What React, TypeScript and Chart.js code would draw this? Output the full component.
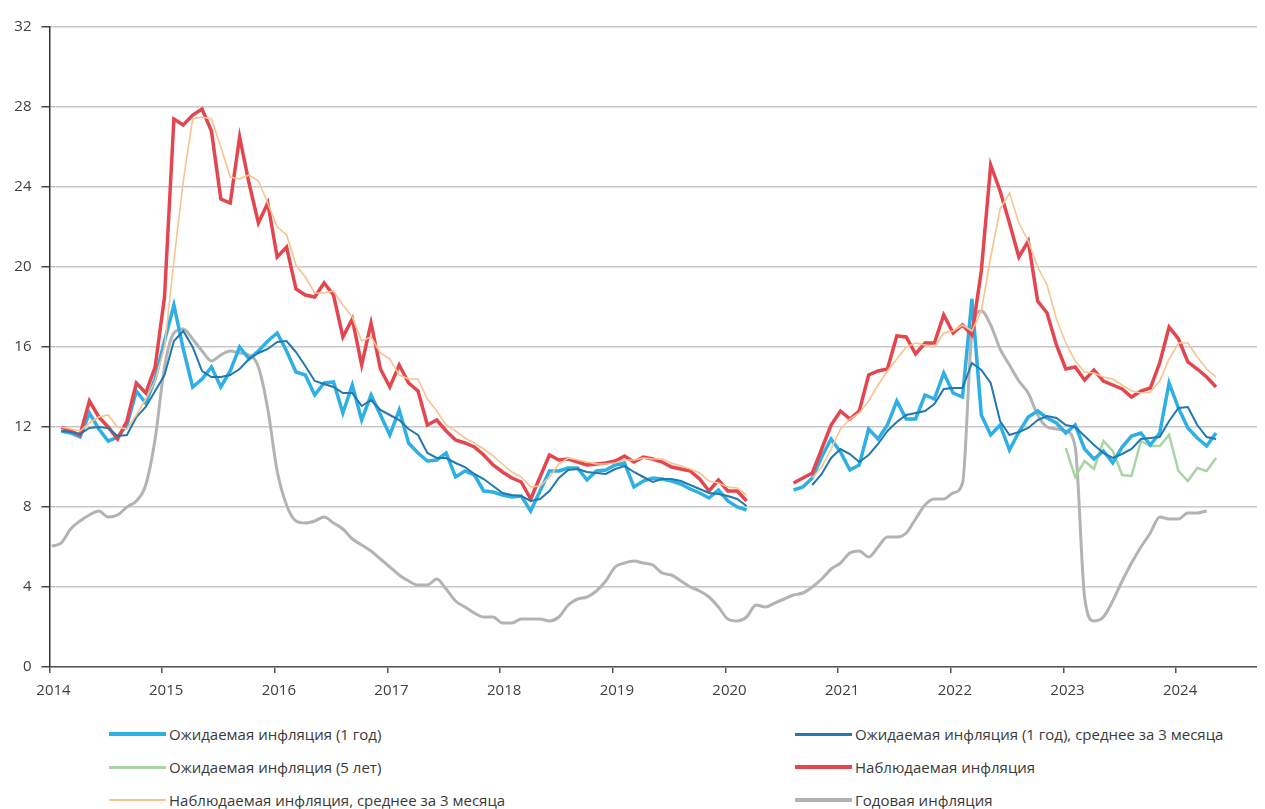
import React, { useEffect, useRef } from "react";
import { Chart, registerables } from "chart.js";

Chart.register(...registerables);

// Monthly data, index 0 = January 2014, last = May 2024
const START_YEAR = 2014;
const MONTH_OFFSET = 0.25;

const YEAR_TICKS = [2014, 2015, 2016, 2017, 2018, 2019, 2020, 2021, 2022, 2023, 2024];
const VALUE_TICKS = [0, 4, 8, 12, 16, 20, 24, 28, 32];

// Ожидаемая инфляция (1 год)
const expected1y = [
  null, 11.8, 11.7, 11.5, 12.7, 11.9, 11.3, 11.5, 12.1, 13.8, 13.2, 14.4,
  16.3, 18.1, 15.9, 14.0, 14.4, 15.0, 14.0, 14.8, 16.0, 15.4, 15.8, 16.3,
  16.7, 15.8, 14.75, 14.6, 13.6, 14.2, 14.25, 12.7, 14.1, 12.35, 13.6, 12.6,
  11.6, 12.85, 11.2, 10.7, 10.3, 10.35, 10.7, 9.5, 9.8, 9.6, 8.8, 8.75,
  8.6, 8.5, 8.55, 7.8, 8.8, 9.8, 9.8, 9.95, 9.95, 9.35, 9.8, 9.85,
  10.1, 10.2, 9.0, 9.3, 9.45, 9.4, 9.3, 9.15, 8.9, 8.7, 8.45, 8.85,
  8.3, 8.0, 7.85, null, null, null, null, 8.85, 9.0, 9.45, 10.5, 11.4,
  10.75, 9.85, 10.1, 11.9, 11.4, 12.1, 13.3, 12.4, 12.4, 13.6, 13.4, 14.7,
  13.7, 13.5, 18.4, 12.6, 11.6, 12.1, 10.85, 11.75, 12.5, 12.8, 12.45, 12.2,
  11.7, 12.1, 10.9, 10.4, 10.8, 10.2, 11.0, 11.55, 11.7, 11.1, 11.7, 14.2,
  12.95, 11.95, 11.45, 11.05, 11.7,
];

// Ожидаемая инфляция (1 год), среднее за 3 месяца
const expected1y3m = [
  null, 11.8, 11.75, 11.65, 11.95, 12.0, 11.95, 11.55, 11.6, 12.5, 13.0, 13.8,
  14.6, 16.3, 16.8, 16.0, 14.8, 14.5, 14.5, 14.6, 14.9, 15.4, 15.7, 15.9,
  16.25, 16.3, 15.75, 15.05, 14.3, 14.15, 14.0, 13.7, 13.7, 13.05, 13.35, 12.85,
  12.6, 12.35, 11.9, 11.6, 10.7, 10.45, 10.45, 10.2, 10.0, 9.65, 9.4, 9.05,
  8.7, 8.6, 8.55, 8.3, 8.4, 8.8, 9.45, 9.85, 9.9, 9.75, 9.7, 9.65,
  9.9, 10.05, 9.75, 9.5, 9.25, 9.4, 9.4, 9.3, 9.1, 8.9, 8.7, 8.65,
  8.55, 8.4, 8.05, null, null, null, null, null, null, 9.1, 9.65, 10.45,
  10.9, 10.65, 10.25, 10.6, 11.15, 11.8, 12.25, 12.6, 12.7, 12.8, 13.15, 13.9,
  13.95, 13.95, 15.2, 14.85, 14.2, 12.3, 11.6, 11.75, 11.95, 12.35, 12.55, 12.45,
  12.1, 12.0, 11.55, 11.1, 10.7, 10.45, 10.65, 10.9, 11.4, 11.45, 11.5, 12.3,
  12.95, 13.0, 12.1, 11.5, 11.4,
];

// Ожидаемая инфляция (5 лет)
const expected5y = [
  null, null, null, null, null, null, null, null, null, null, null, null,
  null, null, null, null, null, null, null, null, null, null, null, null,
  null, null, null, null, null, null, null, null, null, null, null, null,
  null, null, null, null, null, null, null, null, null, null, null, null,
  null, null, null, null, null, null, null, null, null, null, null, null,
  null, null, null, null, null, null, null, null, null, null, null, null,
  null, null, null, null, null, null, null, null, null, null, null, null,
  null, null, null, null, null, null, null, null, null, null, null, null,
  null, null, null, null, null, null, null, null, null, null, null, null,
  10.95, 9.5, 10.3, 9.9, 11.3, 10.8, 9.6, 9.55, 11.3, 11.05, 11.05, 11.6,
  9.8, 9.3, 9.95, 9.8, 10.45,
];

// Наблюдаемая инфляция
const observed = [
  null, 12.0, 11.8, 11.6, 13.3, 12.5, 12.0, 11.4, 12.3, 14.2, 13.7, 15.0,
  18.5, 27.4, 27.1, 27.6, 27.9, 26.8, 23.4, 23.2, 26.5, 24.2, 22.2, 23.2,
  20.5, 21.0, 18.9, 18.6, 18.5, 19.2, 18.6, 16.5, 17.4, 15.1, 17.2, 14.9,
  14.0, 15.1, 14.2, 13.8, 12.1, 12.35, 11.8, 11.35, 11.2, 11.0, 10.6, 10.1,
  9.75, 9.45, 9.25, 8.4, 9.5, 10.6, 10.35, 10.4, 10.25, 10.1, 10.15, 10.2,
  10.3, 10.55, 10.25, 10.5, 10.4, 10.25, 10.0, 9.9, 9.8, 9.4, 8.8, 9.35,
  8.8, 8.8, 8.3, null, null, null, null, 9.2, 9.45, 9.7, 10.9, 12.1,
  12.8, 12.4, 12.8, 14.6, 14.8, 14.9, 16.55, 16.5, 15.65, 16.2, 16.2, 17.6,
  16.7, 17.1, 16.6, 19.8, 25.1, 23.8, 22.2, 20.5, 21.3, 18.3, 17.7, 16.1,
  14.9, 15.0, 14.35, 14.85, 14.3, 14.1, 13.9, 13.5, 13.8, 13.95, 15.2, 17.0,
  16.4, 15.25, 14.9, 14.5, 14.0,
];

// Наблюдаемая инфляция, среднее за 3 месяца
const observed3m = [
  null, 12.0, 11.9, 11.8, 12.2, 12.5, 12.6, 12.0, 11.9, 12.6, 13.4, 14.3,
  16.0, 20.3, 24.3, 27.4, 27.5, 27.4, 26.0, 24.5, 24.4, 24.6, 24.3, 23.2,
  22.0, 21.6, 20.1, 19.5, 18.7, 18.7, 18.8, 18.1, 17.5, 16.3, 16.5, 15.7,
  15.4, 14.6, 14.4, 14.4, 13.4, 12.8, 12.1, 11.8, 11.45, 11.2, 10.9, 10.55,
  10.15, 9.75, 9.5, 9.0, 9.05, 9.5, 10.15, 10.45, 10.35, 10.25, 10.15, 10.15,
  10.2, 10.35, 10.35, 10.45, 10.4, 10.4, 10.2, 10.05, 9.9, 9.7, 9.3, 9.2,
  9.0, 8.95, 8.6, null, null, null, null, null, null, 9.45, 10.0, 10.9,
  11.9, 12.4, 12.7, 13.3, 14.1, 14.8, 15.4, 16.0, 16.2, 16.1, 16.0, 16.7,
  16.8, 17.1, 16.8, 17.8, 20.5, 22.9, 23.7, 22.2, 21.3, 20.0, 19.1, 17.4,
  16.2, 15.3, 14.75, 14.7, 14.5, 14.4, 14.1, 13.8, 13.7, 13.75, 14.3, 15.4,
  16.2, 16.2, 15.5, 14.9, 14.5,
];

// Годовая инфляция
const annualCpi = [
  6.05, 6.2, 6.9, 7.3, 7.6, 7.8, 7.5, 7.6, 8.0, 8.3, 9.1, 11.4,
  15.0, 16.7, 16.9, 16.4, 15.8, 15.3, 15.6, 15.8, 15.7, 15.6, 15.0, 12.9,
  9.8, 8.1, 7.3, 7.2, 7.3, 7.5, 7.2, 6.9, 6.4, 6.1, 5.8, 5.4,
  5.0, 4.6, 4.3, 4.1, 4.1, 4.4, 3.9, 3.3, 3.0, 2.7, 2.5, 2.5,
  2.2, 2.2, 2.4, 2.4, 2.4, 2.3, 2.5, 3.1, 3.4, 3.5, 3.8, 4.3,
  5.0, 5.2, 5.3, 5.2, 5.1, 4.7, 4.6, 4.3, 4.0, 3.8, 3.5, 3.0,
  2.4, 2.3, 2.5, 3.1, 3.0, 3.2, 3.4, 3.6, 3.7, 4.0, 4.4, 4.9,
  5.2, 5.7, 5.8, 5.5, 6.0, 6.5, 6.5, 6.7, 7.4, 8.1, 8.4, 8.4,
  8.7, 9.2, 16.7, 17.8, 17.1, 15.9, 15.1, 14.3, 13.7, 12.6, 12.0, 11.9,
  11.8, 11.0, 3.5, 2.3, 2.5, 3.3, 4.3, 5.2, 6.0, 6.7, 7.5, 7.4,
  7.4, 7.7, 7.7, 7.8, null,
];

const SERIES_NAMES = [
  "Ожидаемая инфляция (1 год)",
  "Ожидаемая инфляция (1 год), среднее за 3 месяца",
  "Ожидаемая инфляция (5 лет)",
  "Наблюдаемая инфляция",
  "Наблюдаемая инфляция, среднее за 3 месяца",
  "Годовая инфляция",
];
const SERIES_VALUES = [expected1y, expected1y3m, expected5y, observed, observed3m, annualCpi];
const SERIES_COLORS = ["#2eb0e4", "#2378b0", "#a9d4a3", "#e4464f", "#f8c38e", "#b3b3b3"];
const SERIES_WIDTHS = [3.5, 2, 2.5, 3.5, 1.6, 3];
const SERIES_ORDER = [3, 1, 4, 2, 0, 5];
const LEGEND_WIDTHS = [4, 3, 3, 4, 2, 4];

const FONT = "'Open Sans', 'Noto Sans', sans-serif";

function toPoints(values: (number | null)[]) {
  return values.map((v, i) => ({ x: START_YEAR + (i + MONTH_OFFSET) / 12, y: v }));
}

export default function App() {
  const canvasRef = useRef<HTMLCanvasElement | null>(null);

  useEffect(() => {
    if (!canvasRef.current) return;
    const chart = new Chart(canvasRef.current, {
      type: "line",
      data: {
        datasets: SERIES_NAMES.map((name, i) => ({
          label: name,
          data: toPoints(SERIES_VALUES[i]) as any,
          borderColor: SERIES_COLORS[i],
          backgroundColor: SERIES_COLORS[i],
          borderWidth: SERIES_WIDTHS[i],
          pointRadius: 0,
          pointHoverRadius: 0,
          fill: false,
          spanGaps: false,
          order: SERIES_ORDER[i],
          cubicInterpolationMode: i === 5 ? "monotone" : "default",
          tension: 0,
        })),
      },
      options: {
        animation: false,
        responsive: false,
        maintainAspectRatio: false,
        parsing: true,
        layout: { padding: { top: 16, right: 1, bottom: 0, left: 0 } },
        plugins: {
          legend: { display: false },
          tooltip: { enabled: false },
        },
        scales: {
          x: {
            type: "linear",
            min: 2014,
            max: 2024.78,
            afterBuildTicks: (scale: any) => {
              scale.ticks = YEAR_TICKS.map((v) => ({ value: v }));
            },
            afterFit: (scale: any) => {
              scale.height = 41;
            },
            ticks: {
              autoSkip: false,
              maxRotation: 0,
              padding: 9,
              labelOffset: 4,
              color: "#404040",
              font: { family: FONT, size: 15 },
              callback: (v: any) => String(v),
            },
            grid: {
              drawOnChartArea: false,
              drawTicks: true,
              tickLength: 6,
              color: "#555",
              lineWidth: 1.5,
            },
            border: { display: true, color: "#555", width: 1.5 },
          },
          y: {
            type: "linear",
            min: 0,
            max: 32,
            afterBuildTicks: (scale: any) => {
              scale.ticks = VALUE_TICKS.map((v) => ({ value: v }));
            },
            afterFit: (scale: any) => {
              scale.width = 41.5;
            },
            ticks: {
              padding: 10,
              color: "#404040",
              font: { family: FONT, size: 15 },
              callback: (v: any) => String(v),
            },
            grid: {
              color: "#c8c8c8",
              lineWidth: 1.5,
              tickColor: "#444",
              tickLength: 8,
            },
            border: { display: true, color: "#333", width: 1.5 },
          },
        },
      },
    });
    return () => chart.destroy();
  }, []);

  const rowCenters = [726, 759, 792];
  return (
    <div style={{ position: "relative", width: 1257, height: 801, overflow: "hidden", fontFamily: FONT }}>
      <canvas ref={canvasRef} width={1257} height={700} style={{ display: "block", width: 1257, height: 700 }} />
      {SERIES_NAMES.map((name, i) => {
        const row = Math.floor(i / 2);
        const col = i % 2;
        const left = col === 0 ? 101 : 787;
        const top = rowCenters[row];
        return (
          <div
            key={name}
            style={{
              position: "absolute",
              left,
              top: top - 10,
              height: 20,
              display: "flex",
              alignItems: "center",
              whiteSpace: "nowrap",
            }}
          >
            <span
              style={{
                display: "inline-block",
                width: 57,
                height: LEGEND_WIDTHS[i],
                background: SERIES_COLORS[i],
                marginRight: 3,
              }}
            />
            <span style={{ fontSize: 15, color: "#3a3a3a", lineHeight: "20px" }}>{name}</span>
          </div>
        );
      })}
    </div>
  );
}
